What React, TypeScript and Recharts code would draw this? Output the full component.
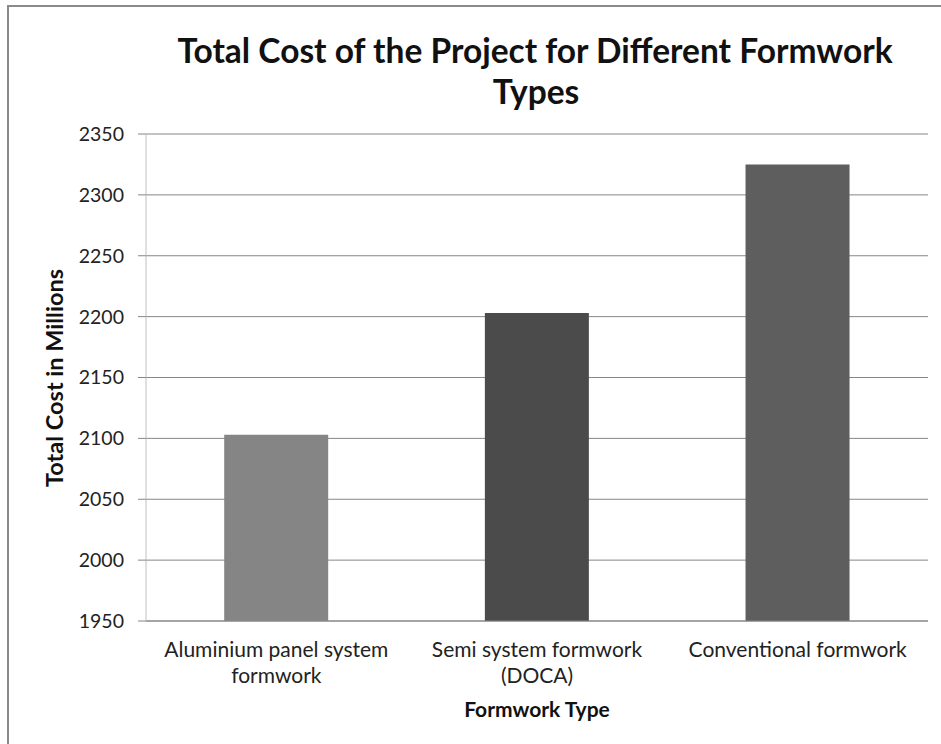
import React from "react";
import { BarChart, Bar, XAxis, YAxis, CartesianGrid, Cell } from "recharts";

const categories = [
  "Aluminium panel system\nformwork",
  "Semi system formwork\n(DOCA)",
  "Conventional formwork",
];
const totalCost = [2103, 2203, 2325];
const barColors = ["#858585", "#4b4b4b", "#5e5e5e"];
const yTicks = [1950, 2000, 2050, 2100, 2150, 2200, 2250, 2300, 2350];
const titleLines = ["Total Cost of the Project for Different Formwork", "Types"];
const yTitle = "Total Cost in Millions";
const xTitle = "Formwork Type";

const data = categories.map((c, i) => ({ name: c, value: totalCost[i] }));

const FONT = "Lato, 'Open Sans', sans-serif";

const CategoryTick = (props: any) => {
  const { x, y, payload } = props;
  const lines = String(payload.value).split("\n");
  return (
    <text x={x} y={y} textAnchor="middle" fill="#222" fontFamily={FONT} fontSize={21}>
      {lines.map((l, i) => (
        <tspan key={i} x={x} dy={i === 0 ? 36 : 26}>
          {l}
        </tspan>
      ))}
    </text>
  );
};

export default function App() {
  return (
    <div
      style={{
        position: "absolute",
        left: 0,
        top: 0,
        width: 941,
        height: 744,
        overflow: "hidden",
        background: "#fff",
      }}
    >
      <div
        style={{
          position: "absolute",
          left: 7,
          top: 5,
          width: 1000,
          height: 1000,
          borderTop: "2px solid #8a8a8a",
          borderLeft: "2px solid #8a8a8a",
        }}
      />
      <div style={{ position: "absolute", left: 0, top: 0 }}>
        <BarChart
          width={941}
          height={744}
          data={data}
          margin={{ top: 134, right: 13, bottom: 23, left: 86 }}
          barCategoryGap="30%"
        >
          <CartesianGrid vertical={false} stroke="#868686" strokeWidth={1} />
          <XAxis
            dataKey="name"
            axisLine={{ stroke: "#868686" }}
            tickLine={false}
            tickSize={0}
            tickMargin={0}
            height={100}
            interval={0}
            tick={<CategoryTick />}
          />
          <YAxis
            domain={[1950, 2350]}
            ticks={yTicks}
            width={60}
            axisLine={{ stroke: "#c0c0c0" }}
            tickLine={{ stroke: "#868686" }}
            tickSize={8}
            tickMargin={14}
            allowDataOverflow
            tick={{ fill: "#222", fontFamily: FONT, fontSize: 19.5 }}
          />
          <Bar dataKey="value" isAnimationActive={false}>
            {data.map((d, i) => (
              <Cell key={i} fill={barColors[i]} />
            ))}
          </Bar>
          <text
            x={535}
            y={63}
            textAnchor="middle"
            fontFamily={FONT}
            fontWeight="bold"
            fontSize={33.5}
            fill="#111"
          >
            {titleLines[0]}
          </text>
          <text
            x={536}
            y={104}
            textAnchor="middle"
            fontFamily={FONT}
            fontWeight="bold"
            fontSize={33.5}
            fill="#111"
          >
            {titleLines[1]}
          </text>
          <text
            x={63}
            y={378}
            textAnchor="middle"
            transform="rotate(-90 63 378)"
            fontFamily={FONT}
            fontWeight="bold"
            fontSize={23.5}
            fill="#111"
          >
            {yTitle}
          </text>
          <text
            x={537}
            y={717}
            textAnchor="middle"
            fontFamily={FONT}
            fontWeight="bold"
            fontSize={21}
            fill="#111"
          >
            {xTitle}
          </text>
        </BarChart>
      </div>
    </div>
  );
}
